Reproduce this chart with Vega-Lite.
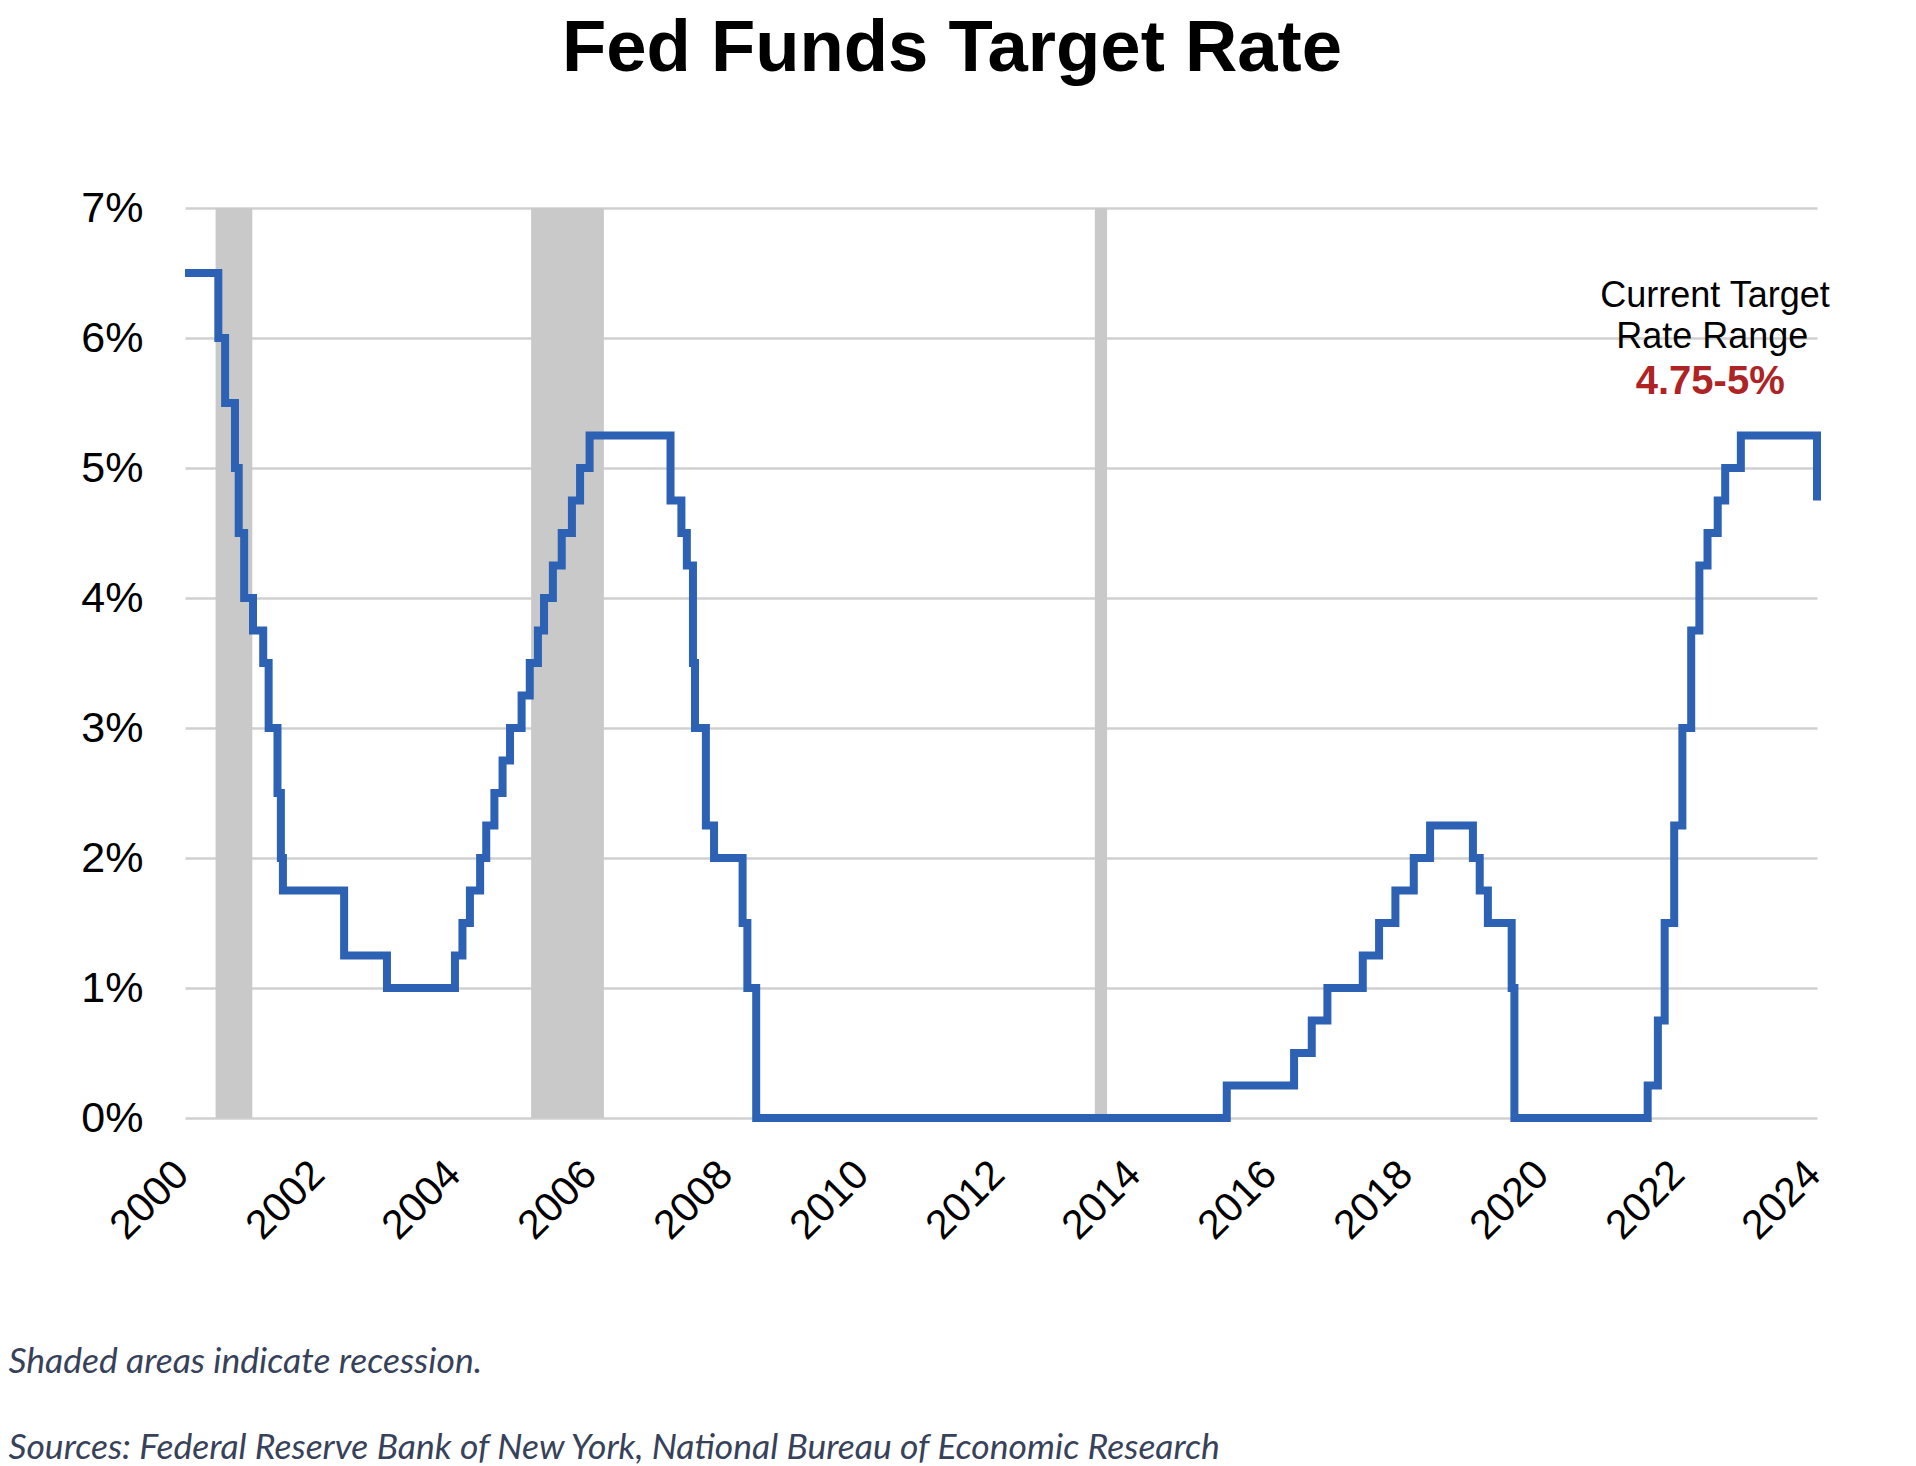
{
  "$schema": "https://vega.github.io/schema/vega-lite/v6.json",
  "width": 1632,
  "height": 910,
  "autosize": {"type": "none"},
  "padding": {"left": 185, "top": 208, "right": 99, "bottom": 348},
  "background": "white",
  "title": {
    "text": "Fed Funds Target Rate",
    "font": "Liberation Sans",
    "fontSize": 72.5,
    "fontWeight": "bold",
    "color": "black",
    "anchor": "middle",
    "frame": "group",
    "dx": -49,
    "baseline": "alphabetic",
    "offset": 44
  },
  "config": {
    "view": {"stroke": null},
    "axisX": {
      "format": "d",
      "labelAngle": -45,
      "labelAlign": "right",
      "labelBaseline": "middle",
      "labelPadding": 50,
      "labelOffset": -3,
      "labelFont": "Liberation Sans",
      "labelFontSize": 41,
      "labelColor": "black",
      "labelOverlap": false,
      "labelFlush": false,
      "labelBound": false,
      "ticks": false,
      "domain": false,
      "grid": false,
      "titleX": -177,
      "titleY": 254,
      "titleAlign": "left",
      "titleAnchor": "start",
      "titleBaseline": "alphabetic",
      "titleLineHeight": 86,
      "titleFont": "Lato",
      "titleFontStyle": "italic",
      "titleFontWeight": "normal",
      "titleFontSize": 35.5,
      "titleColor": "#37425A",
      "titleLimit": 2000
    },
    "axisY": {
      "labelExpr": "datum.value + '%'",
      "labelFont": "Liberation Sans",
      "labelFontSize": 43,
      "labelColor": "black",
      "labelPadding": 42,
      "labelAlign": "right",
      "labelBaseline": "middle",
      "ticks": false,
      "domain": false,
      "grid": true,
      "gridColor": "#d0d0d0",
      "gridWidth": 2.5
    }
  },
  "datasets": {
    "recessions": [
      {"start": 2000.45, "end": 2000.99},
      {"start": 2005.09, "end": 2006.16},
      {"start": 2013.38, "end": 2013.56}
    ],
    "rate": [
      {"year": 2000.0, "rate": 6.5},
      {"year": 2000.49, "rate": 6.0},
      {"year": 2000.59, "rate": 5.5},
      {"year": 2000.735, "rate": 5.0},
      {"year": 2000.79, "rate": 4.5},
      {"year": 2000.87, "rate": 4.0},
      {"year": 2001.0, "rate": 3.75},
      {"year": 2001.15, "rate": 3.5},
      {"year": 2001.23, "rate": 3.0},
      {"year": 2001.36, "rate": 2.5},
      {"year": 2001.41, "rate": 2.0},
      {"year": 2001.44, "rate": 1.75},
      {"year": 2002.34, "rate": 1.25},
      {"year": 2002.97, "rate": 1.0},
      {"year": 2003.97, "rate": 1.25},
      {"year": 2004.08, "rate": 1.5},
      {"year": 2004.19, "rate": 1.75},
      {"year": 2004.34, "rate": 2.0},
      {"year": 2004.43, "rate": 2.25},
      {"year": 2004.55, "rate": 2.5},
      {"year": 2004.67, "rate": 2.75},
      {"year": 2004.78, "rate": 3.0},
      {"year": 2004.95, "rate": 3.25},
      {"year": 2005.07, "rate": 3.5},
      {"year": 2005.19, "rate": 3.75},
      {"year": 2005.28, "rate": 4.0},
      {"year": 2005.41, "rate": 4.25},
      {"year": 2005.54, "rate": 4.5},
      {"year": 2005.69, "rate": 4.75},
      {"year": 2005.81, "rate": 5.0},
      {"year": 2005.95, "rate": 5.25},
      {"year": 2007.14, "rate": 4.75},
      {"year": 2007.30, "rate": 4.5},
      {"year": 2007.38, "rate": 4.25},
      {"year": 2007.47, "rate": 3.5},
      {"year": 2007.50, "rate": 3.0},
      {"year": 2007.66, "rate": 2.25},
      {"year": 2007.78, "rate": 2.0},
      {"year": 2008.20, "rate": 1.5},
      {"year": 2008.27, "rate": 1.0},
      {"year": 2008.40, "rate": 0.0},
      {"year": 2015.32, "rate": 0.25},
      {"year": 2016.31, "rate": 0.5},
      {"year": 2016.57, "rate": 0.75},
      {"year": 2016.80, "rate": 1.0},
      {"year": 2017.32, "rate": 1.25},
      {"year": 2017.56, "rate": 1.5},
      {"year": 2017.80, "rate": 1.75},
      {"year": 2018.07, "rate": 2.0},
      {"year": 2018.31, "rate": 2.25},
      {"year": 2018.94, "rate": 2.0},
      {"year": 2019.04, "rate": 1.75},
      {"year": 2019.16, "rate": 1.5},
      {"year": 2019.51, "rate": 1.0},
      {"year": 2019.55, "rate": 0.0},
      {"year": 2021.51, "rate": 0.25},
      {"year": 2021.66, "rate": 0.75},
      {"year": 2021.76, "rate": 1.5},
      {"year": 2021.90, "rate": 2.25},
      {"year": 2022.02, "rate": 3.0},
      {"year": 2022.15, "rate": 3.75},
      {"year": 2022.27, "rate": 4.25},
      {"year": 2022.39, "rate": 4.5},
      {"year": 2022.54, "rate": 4.75},
      {"year": 2022.65, "rate": 5.0},
      {"year": 2022.88, "rate": 5.25},
      {"year": 2024.0, "rate": 4.75}
    ],
    "note": [
      {"year": 2022.5, "rate": 6.32, "label": "Current Target"},
      {"year": 2022.46, "rate": 6.01, "label": "Rate Range"}
    ],
    "current": [
      {"year": 2022.43, "rate": 5.66, "label": "4.75-5%"}
    ]
  },
  "layer": [
    {
      "data": {"name": "recessions"},
      "mark": {"type": "rect", "color": "#c9c9c9"},
      "encoding": {
        "x": {"field": "start", "type": "quantitative", "scale": {"domain": [2000, 2024], "nice": false, "zero": false}, "title": ["Shaded areas indicate recession.", "Sources: Federal Reserve Bank of New York, National Bureau of Economic Research"], "axis": {"values": [2000, 2002, 2004, 2006, 2008, 2010, 2012, 2014, 2016, 2018, 2020, 2022, 2024]}},
        "x2": {"field": "end"},
        "y": {"datum": 0, "type": "quantitative", "scale": {"domain": [0, 7], "nice": false}, "title": null, "axis": {"values": [0, 1, 2, 3, 4, 5, 6, 7]}},
        "y2": {"datum": 7}
      }
    },
    {
      "data": {"name": "rate"},
      "mark": {"type": "line", "interpolate": "step-after", "color": "#2C61B4", "strokeWidth": 8, "strokeJoin": "miter", "strokeCap": "butt"},
      "encoding": {
        "x": {"field": "year", "type": "quantitative", "scale": {"domain": [2000, 2024], "nice": false, "zero": false}, "title": ["Shaded areas indicate recession.", "Sources: Federal Reserve Bank of New York, National Bureau of Economic Research"], "axis": {"values": [2000, 2002, 2004, 2006, 2008, 2010, 2012, 2014, 2016, 2018, 2020, 2022, 2024]}},
        "y": {"field": "rate", "type": "quantitative", "scale": {"domain": [0, 7], "nice": false}, "title": null, "axis": {"values": [0, 1, 2, 3, 4, 5, 6, 7]}}
      }
    },
    {
      "data": {"name": "note"},
      "mark": {"type": "text", "font": "Liberation Sans", "fontSize": 36, "color": "black", "align": "center", "baseline": "middle"},
      "encoding": {
        "x": {"field": "year", "type": "quantitative", "scale": {"domain": [2000, 2024], "nice": false, "zero": false}, "title": ["Shaded areas indicate recession.", "Sources: Federal Reserve Bank of New York, National Bureau of Economic Research"], "axis": {"values": [2000, 2002, 2004, 2006, 2008, 2010, 2012, 2014, 2016, 2018, 2020, 2022, 2024]}},
        "y": {"field": "rate", "type": "quantitative", "scale": {"domain": [0, 7], "nice": false}, "title": null, "axis": {"values": [0, 1, 2, 3, 4, 5, 6, 7]}},
        "text": {"field": "label"}
      }
    },
    {
      "data": {"name": "current"},
      "mark": {"type": "text", "font": "Liberation Sans", "fontSize": 40, "fontWeight": "bold", "color": "#AE2424", "align": "center", "baseline": "middle"},
      "encoding": {
        "x": {"field": "year", "type": "quantitative", "scale": {"domain": [2000, 2024], "nice": false, "zero": false}, "title": ["Shaded areas indicate recession.", "Sources: Federal Reserve Bank of New York, National Bureau of Economic Research"], "axis": {"values": [2000, 2002, 2004, 2006, 2008, 2010, 2012, 2014, 2016, 2018, 2020, 2022, 2024]}},
        "y": {"field": "rate", "type": "quantitative", "scale": {"domain": [0, 7], "nice": false}, "title": null, "axis": {"values": [0, 1, 2, 3, 4, 5, 6, 7]}},
        "text": {"field": "label"}
      }
    }
  ]
}
